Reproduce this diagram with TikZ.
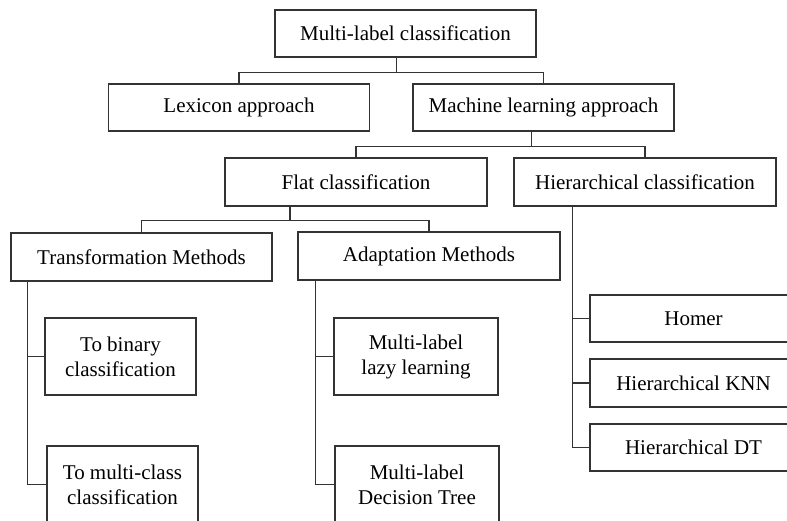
\documentclass[tikz,border=0pt]{standalone}
\usepackage{fontspec}
\setmainfont{Liberation Serif}
\usepackage{tikz}
\usetikzlibrary{positioning}
\definecolor{cLine}{rgb}{0.2, 0.2, 0.2}

\begin{document}
\begin{tikzpicture}[x=1pt, y=-1pt,
    box/.style={rectangle, draw=cLine, line width=1.2pt, minimum width=261pt, minimum height=47pt, inner sep=0pt, align=center, font=\fontsize{21}{25}\selectfont},
    tallbox/.style={box, minimum width=151pt, minimum height=77pt},
    leaf/.style={box, minimum width=207pt},
    link/.style={cLine, line width=1.2pt}
]
\useasboundingbox (0,0) rectangle (787,521);

% Top levels
\node[box] (root) at (405.5, 33.5) {Multi-label classification};
\node[box] (lexicon) at (239, 107.5) {Lexicon approach};
\node[box] (mlearn) at (543.5, 107.5) {Machine learning approach};
\node[box, minimum width=262pt, minimum height=48pt] (flat) at (356, 182) {Flat classification};
\node[box, minimum width=262pt, minimum height=48pt] (hier) at (645, 182) {Hierarchical classification};
\node[box, minimum height=48pt] (trans) at (141.5, 257) {Transformation Methods};
\node[box, minimum width=262pt, minimum height=48pt] (adapt) at (429, 256) {Adaptation Methods};

% Methods
\node[tallbox] (tobin) at (120.5, 356.5) {To binary\\classification};
\node[tallbox] (tomulti) at (122.5, 484.5) {To multi-class\\classification};
\node[tallbox, minimum width=164pt] (lazy) at (416, 356.5) {Multi-label\\lazy learning};
\node[tallbox, minimum width=164pt] (dtree) at (417, 484.5) {Multi-label\\Decision Tree};

% Hierarchical leaves
\node[leaf] (homer) at (693.5, 318.5) {Homer};
\node[leaf, minimum height=48pt] (hknn) at (693.5, 383) {Hierarchical KNN};
\node[leaf] (hdt) at (693.5, 447.5) {Hierarchical DT};

% Tree links
\draw[link] ([xshift=-9pt]root.south) -- ++(0,15) coordinate (bus1);
\draw[link] (lexicon.north) |- (bus1) -| (mlearn.north);
\draw[link] ([xshift=-12pt]mlearn.south) -- ++(0,15) coordinate (bus2);
\draw[link] (flat.north) |- (bus2) -| (hier.north);
\draw[link] ([xshift=-66pt]flat.south) -- ++(0,14) coordinate (bus3);
\draw[link] (trans.north) |- (bus3) -| (adapt.north);

% Side links
\draw[link] ([xshift=17pt]trans.south west) |- (tobin.west);
\draw[link] ([xshift=17pt]trans.south west) |- (tomulti.west);
\draw[link] ([xshift=18pt]adapt.south west) |- (lazy.west);
\draw[link] ([xshift=18pt]adapt.south west) |- (dtree.west);
\draw[link] ([xshift=59pt]hier.south west) |- (homer.west);
\draw[link] ([xshift=59pt]hier.south west) |- (hknn.west);
\draw[link] ([xshift=59pt]hier.south west) |- (hdt.west);

\end{tikzpicture}
\end{document}
